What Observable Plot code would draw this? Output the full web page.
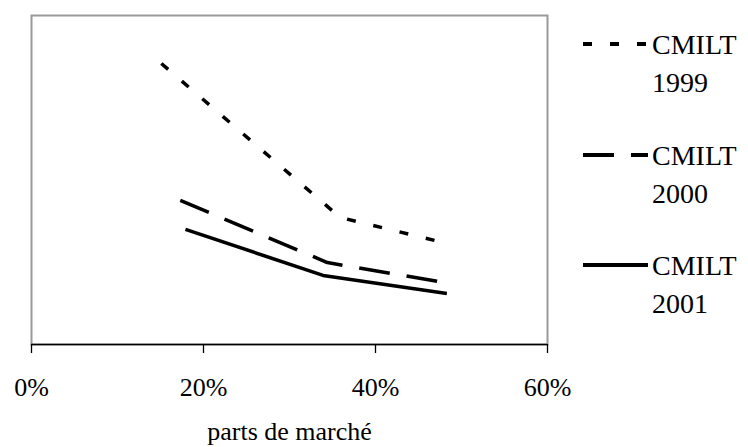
<!DOCTYPE html>
<html>
<head>
<meta charset="utf-8">
<script src="https://cdn.jsdelivr.net/npm/d3@7"></script>
<script src="https://cdn.jsdelivr.net/npm/@observablehq/plot@0.6"></script>
<style>
  html, body { margin: 0; padding: 0; background: #fff; }
  #wrap { position: relative; width: 748px; height: 447px; font-family: 'Liberation Serif', 'DejaVu Serif', serif; }
  .leg { position: absolute; left: 583px; display: flex; align-items: flex-start; }
  .leg svg { display: block; }
  .leg .txt { font-family: 'Liberation Serif', 'DejaVu Serif', serif; font-size: 28px; line-height: 38px; color: #000; margin-left: 3px; }
  svg text { font-family: 'Liberation Serif', 'DejaVu Serif', serif; }
</style>
</head>
<body>
<div id="wrap"></div>
<script>
// Series (x = market share, y = arbitrary units, no y axis shown)
const seriesNames = ["CMILT 1999", "CMILT 2000", "CMILT 2001"];
const share1999 = [0.151, 0.359, 0.488];
const value1999 = [85.4, 38.6, 30.4];
const share2000 = [0.173, 0.344, 0.481];
const value2000 = [43.8, 24.9, 18.8];
const share2001 = [0.179, 0.339, 0.483];
const value2001 = [35.0, 21.0, 15.5];
const xTicks = [0, 0.2, 0.4, 0.6];
const xLabel = "parts de marché";

const dashes = {"CMILT 1999": "9,18", "CMILT 2000": "31,17", "CMILT 2001": null};

const shares = [share1999, share2000, share2001];
const values = [value1999, value2000, value2001];
const rows = [];
seriesNames.forEach((s, i) => shares[i].forEach((x, j) => rows.push({series: s, x, y: values[i][j]})));

const font = "'Liberation Serif', 'DejaVu Serif', serif";

const plot = Plot.plot({
  width: 748,
  height: 447,
  marginLeft: 31,
  marginRight: 201,
  marginTop: 15,
  marginBottom: 103,
  style: {fontFamily: font, background: "#fff", color: "#000"},
  x: {domain: [0, 0.6], ticks: xTicks},
  y: {domain: [0, 100], axis: null},
  marks: [
    Plot.frame({stroke: "#999", strokeWidth: 2}),
    Plot.ruleY([0], {stroke: "#000", strokeWidth: 1.5}),
    Plot.axisX({ticks: xTicks, tickFormat: d3.format(".0%"), tickSize: 9, tickPadding: 24, fontSize: 26, fontFamily: font, label: null, stroke: "#000", strokeWidth: 1.3}),
    Plot.text([xLabel], {frameAnchor: "bottom", dy: 95, fontSize: 26, fontFamily: font, fill: "#000"}),
    ...seriesNames.map(s => Plot.line(rows.filter(r => r.series === s), {
      x: "x", y: "y", stroke: "#000", strokeWidth: 3.5,
      strokeDasharray: dashes[s] || undefined, strokeLinejoin: "miter", strokeLinecap: "butt"
    }))
  ]
});
const wrap = document.getElementById("wrap");
wrap.appendChild(plot);

// Legend
const legendTops = [26, 137, 247];
seriesNames.forEach((s, i) => {
  const [a, b] = s.split(" ");
  const div = document.createElement("div");
  div.className = "leg";
  div.style.top = legendTops[i] + "px";
  const dash = dashes[s] ? ` stroke-dasharray="${dashes[s]}"` : "";
  div.innerHTML = `<svg width="66" height="38"><line x1="0" x2="65" y1="18" y2="18" stroke="#000" stroke-width="4"${dash}/></svg><div class="txt">${a}<br>${b}</div>`;
  wrap.appendChild(div);
});
</script>
</body>
</html>
